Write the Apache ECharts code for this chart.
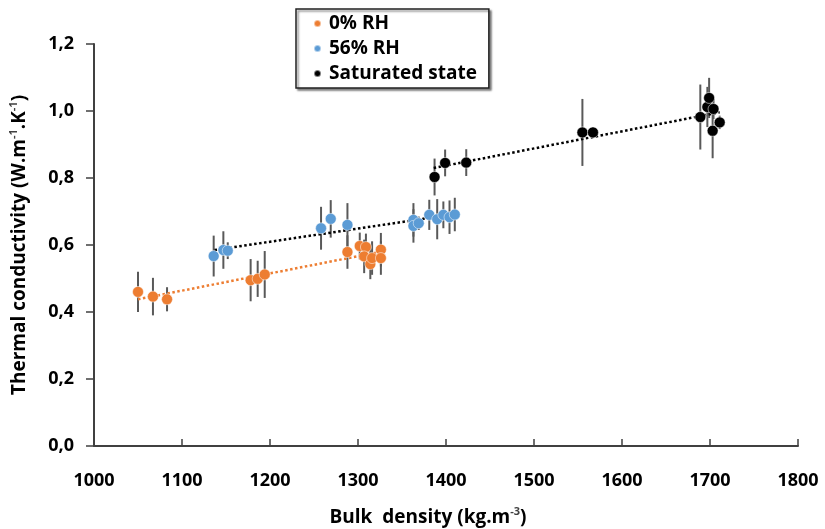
<!DOCTYPE html>
<html>
<head>
<meta charset="utf-8">
<script src="https://cdn.jsdelivr.net/npm/echarts@6/dist/echarts.min.js"></script>
<style>
html,body{margin:0;padding:0;background:#fff;}
#main{width:825px;height:529px;}
</style>
</head>
<body>
<div id="main"></div>
<script>
// ---- data ----
const seriesNames = ['0% RH', '56% RH', 'Saturated state'];

const orangeX   = [1050, 1067, 1083, 1178, 1186, 1194, 1288, 1302, 1309, 1307, 1314, 1316, 1326, 1326];
const orangeY   = [0.460, 0.446, 0.438, 0.495, 0.499, 0.512, 0.579, 0.597, 0.594, 0.566, 0.543, 0.561, 0.586, 0.561];
const orangeErr = [0.060, 0.056, 0.036, 0.063, 0.054, 0.070, 0.050, 0.040, 0.040, 0.050, 0.045, 0.050, 0.050, 0.050];

const blueX   = [1136, 1147, 1152, 1258, 1269, 1288, 1363, 1363, 1369, 1381, 1390, 1397, 1404, 1410];
const blueY   = [0.567, 0.585, 0.583, 0.650, 0.678, 0.660, 0.675, 0.657, 0.665, 0.690, 0.677, 0.690, 0.683, 0.691];
const blueErr = [0.061, 0.056, 0.025, 0.064, 0.056, 0.065, 0.050, 0.050, 0.020, 0.045, 0.060, 0.040, 0.050, 0.050];

const blackX   = [1387, 1399, 1423, 1555, 1567, 1689, 1697, 1699, 1704, 1703, 1711];
const blackY   = [0.803, 0.845, 0.846, 0.936, 0.936, 0.982, 1.012, 1.039, 1.006, 0.941, 0.966];
const blackErr = [0.055, 0.040, 0.040, 0.100, 0.015, 0.097, 0.060, 0.060, 0.030, 0.082, 0.020];

// trend lines (end points)
const orangeTrendX = [1050, 1326], orangeTrendY = [0.438, 0.580];
const blueTrendX   = [1137, 1412], blueTrendY   = [0.585, 0.693];
const blackTrendX  = [1386, 1711], blackTrendY  = [0.830, 0.996];

const xTicks = [1000, 1100, 1200, 1300, 1400, 1500, 1600, 1700, 1800];
const yTicks = [0.0, 0.2, 0.4, 0.6, 0.8, 1.0, 1.2];

// ---- build ----
const colors = ['#ED7D31', '#5B9BD5', '#000000'];
const FONT = '"Open Sans", sans-serif';
const zip = (xs, ys) => xs.map((x, i) => [x, ys[i]]);
const errData = (xs, ys, es) => xs.map((x, i) => [x, ys[i] - es[i], ys[i] + es[i]]);

function errSeries(xs, ys, es) {
  return {
    type: 'custom',
    z: 1,
    silent: true,
    data: errData(xs, ys, es),
    renderItem: function (params, api) {
      const lo = api.coord([api.value(0), api.value(1)]);
      const hi = api.coord([api.value(0), api.value(2)]);
      return {
        type: 'line',
        shape: { x1: lo[0], y1: lo[1], x2: hi[0], y2: hi[1] },
        style: { stroke: '#595959', lineWidth: 2 }
      };
    }
  };
}
function trendSeries(xs, ys, color) {
  return {
    type: 'line',
    z: 2,
    silent: true,
    symbol: 'none',
    data: zip(xs, ys),
    lineStyle: { color: color, width: 2.5, type: [2.5, 2.5] }
  };
}
function scatterSeries(name, xs, ys, color) {
  return {
    name: name,
    type: 'scatter',
    z: 3,
    symbolSize: 11,
    data: zip(xs, ys),
    itemStyle: { color: color, opacity: 1, borderColor: 'rgba(255,255,255,0.5)', borderWidth: 1 }
  };
}

const supStyle = { fontFamily: FONT, fontWeight: 'bold', fontSize: 11, verticalAlign: 'top', lineHeight: 24 };
const baseName = { fontFamily: FONT, fontWeight: 'bold', fontSize: 19, color: '#000', lineHeight: 24 };

const option = {
  animation: false,
  backgroundColor: '#fff',
  grid: { left: 94, right: 27, top: 44, bottom: 83, containLabel: false, outerBoundsMode: 'none' },
  legend: {
    data: seriesNames,
    orient: 'vertical',
    left: 296,
    top: 9,
    icon: 'circle',
    itemWidth: 7,
    itemHeight: 7,
    itemGap: 6,
    padding: [5, 12, 5, 17],
    backgroundColor: '#fff',
    borderColor: '#222',
    borderWidth: 1.5,
    shadowColor: 'rgba(0,0,0,0.45)',
    shadowBlur: 2,
    shadowOffsetX: 2,
    shadowOffsetY: 2,
    textStyle: { fontFamily: FONT, fontWeight: 'bold', fontSize: 19, lineHeight: 19, color: '#000', padding: [0, 0, 0, 3] }
  },
  xAxis: {
    type: 'value',
    min: xTicks[0],
    max: xTicks[xTicks.length - 1],
    interval: 100,
    splitLine: { show: false },
    axisLine: { lineStyle: { color: '#404040', width: 2 } },
    axisTick: { inside: true, length: 7, lineStyle: { color: '#404040', width: 1.5 } },
    axisLabel: { margin: 26, fontFamily: FONT, fontWeight: 'bold', fontSize: 18, color: '#000',
      formatter: v => String(v) },
    name: '{n|Bulk  density (kg.m}{s|-3}{n|)}',
    nameLocation: 'middle',
    nameGap: 60,
    nameTextStyle: { padding: [0, 36, 0, 0], rich: { n: baseName, s: supStyle } }
  },
  yAxis: {
    type: 'value',
    min: yTicks[0],
    max: yTicks[yTicks.length - 1],
    interval: 0.2,
    splitLine: { show: false },
    axisLine: { show: true, lineStyle: { color: '#404040', width: 2 } },
    axisTick: { show: true, inside: false, length: 8, lineStyle: { color: '#404040', width: 1.5 } },
    axisLabel: {
      margin: 20, fontFamily: FONT, fontWeight: 'bold', fontSize: 18, color: '#000',
      formatter: v => v.toFixed(1).replace('.', ',')
    },
    name: '{n|Thermal conductivity (W.m}{s|-1}{n|.K}{s|-1}{n|)}',
    nameLocation: 'middle',
    nameRotate: 90,
    nameGap: 62,
    nameTextStyle: { rich: { n: baseName, s: supStyle } }
  },
  series: [
    errSeries(orangeX, orangeY, orangeErr),
    errSeries(blueX, blueY, blueErr),
    errSeries(blackX, blackY, blackErr),
    trendSeries(orangeTrendX, orangeTrendY, colors[0]),
    trendSeries(blueTrendX, blueTrendY, '#000'),
    trendSeries(blackTrendX, blackTrendY, '#000'),
    scatterSeries(seriesNames[0], orangeX, orangeY, colors[0]),
    scatterSeries(seriesNames[1], blueX, blueY, colors[1]),
    scatterSeries(seriesNames[2], blackX, blackY, colors[2])
  ]
};

const chart = echarts.init(document.getElementById('main'), null, { renderer: 'canvas' });
chart.setOption(option);
</script>
</body>
</html>
